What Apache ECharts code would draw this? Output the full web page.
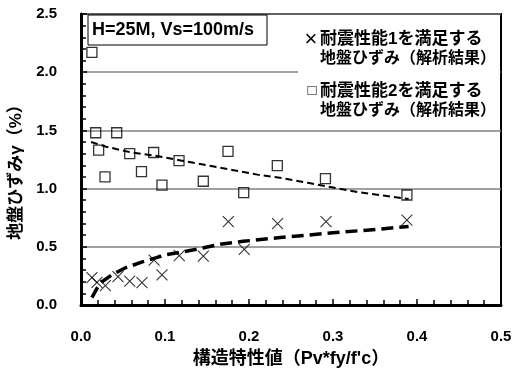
<!DOCTYPE html>
<html>
<head>
<meta charset="utf-8">
<script src="https://cdn.jsdelivr.net/npm/echarts@6/dist/echarts.min.js"></script>
<style>
  html, body { margin: 0; padding: 0; background: #fff; }
  #main { width: 512px; height: 368px; }
</style>
</head>
<body>
<div id="main"></div>
<script>
// 耐震性能1 (×) 解析結果
var crossX = [0.013, 0.019, 0.029, 0.044, 0.058, 0.0726, 0.087, 0.0964, 0.117, 0.1456, 0.1754, 0.1944, 0.234, 0.2917, 0.388]
var crossY = [0.235, 0.195, 0.166, 0.243, 0.206, 0.192, 0.385, 0.258, 0.425, 0.42, 0.716, 0.478, 0.70, 0.716, 0.73]
// 耐震性能2 (□) 解析結果
var squareX = [0.013, 0.0175, 0.021, 0.0286, 0.0425, 0.058, 0.072, 0.0865, 0.0964, 0.1167, 0.1456, 0.175, 0.1937, 0.2337, 0.291, 0.388]
var squareY = [2.17, 1.48, 1.33, 1.10, 1.48, 1.30, 1.145, 1.31, 1.03, 1.24, 1.063, 1.32, 0.965, 1.197, 1.085, 0.945]
// 近似曲線
var upperFitX = [0.012, 0.03, 0.06, 0.09, 0.12, 0.15, 0.18, 0.21, 0.24, 0.27, 0.3, 0.33, 0.36, 0.39]
var upperFitY = [1.40, 1.36, 1.31, 1.28, 1.24, 1.20, 1.16, 1.12, 1.09, 1.05, 1.01, 0.97, 0.94, 0.91]
var lowerFitX = [0.013, 0.019, 0.025, 0.037, 0.053, 0.073, 0.087, 0.1, 0.12, 0.142, 0.168, 0.193, 0.237, 0.3, 0.352, 0.39]
var lowerFitY = [0.063, 0.143, 0.2, 0.26, 0.32, 0.37, 0.40, 0.43, 0.455, 0.485, 0.525, 0.547, 0.58, 0.62, 0.65, 0.675]
// 軸
var xTicks = [0, 0.1, 0.2, 0.3, 0.4, 0.5]
var yTicks = [0, 0.5, 1.0, 1.5, 2.0, 2.5]
var legendLines = ['耐震性能1を満足する', '地盤ひずみ（解析結果）', '耐震性能2を満足する', '地盤ひずみ（解析結果）']

var FONT = '"Liberation Sans", "Noto Sans CJK JP", sans-serif'

function pairs (xs, ys) {
  return xs.map(function (x, i) { return [x, ys[i]] })
}

var myChart = echarts.init(document.getElementById('main'))

var option = {
  animation: false,
  backgroundColor: '#fff',
  textStyle: { fontFamily: FONT, fontWeight: 'bold', color: '#000' },
  grid: {
    left: 81, top: 14, width: 420, height: 291,
    containLabel: false, outerBoundsMode: 'none',
    show: true, borderColor: '#000', borderWidth: 2
  },
  xAxis: {
    type: 'value',
    min: xTicks[0], max: xTicks[xTicks.length - 1], interval: 0.1,
    name: '構造特性値（Pv*fy/f\'c）',
    nameLocation: 'middle', nameGap: 45,
    nameTextStyle: { fontSize: 18, fontWeight: 'bold', color: '#000', fontFamily: FONT },
    axisLine: { show: true, lineStyle: { color: '#000', width: 3 } },
    axisTick: { show: true, inside: true, length: 6, lineStyle: { color: '#000', width: 1.5 } },
    minorTick: { show: true, splitNumber: 5, length: 5, lineStyle: { color: '#000', width: 1.5 } },
    splitLine: { show: false },
    axisLabel: {
      margin: 24, fontSize: 15, fontWeight: 'bold', color: '#000', fontFamily: FONT,
      formatter: function (v) { return v.toFixed(1) }
    }
  },
  yAxis: {
    type: 'value',
    min: yTicks[0], max: yTicks[yTicks.length - 1], interval: 0.5,
    axisLine: { show: true, lineStyle: { color: '#000', width: 3 } },
    axisTick: { show: true, inside: true, length: 6, lineStyle: { color: '#000', width: 1.5 } },
    minorTick: { show: true, splitNumber: 5, length: 5, lineStyle: { color: '#000', width: 1.5 } },
    splitLine: { show: true, lineStyle: { color: '#808080', width: 1.5 } },
    axisLabel: {
      margin: 24, fontSize: 15, fontWeight: 'bold', color: '#000', fontFamily: FONT,
      formatter: function (v) { return v.toFixed(1) }
    }
  },
  series: [
    {
      name: 'upperFit', type: 'line', data: pairs(upperFitX, upperFitY),
      symbol: 'none', silent: true, z: 3,
      lineStyle: { color: '#000', width: 2, type: [7, 4] }
    },
    {
      name: 'lowerFit', type: 'line', data: pairs(lowerFitX, lowerFitY),
      symbol: 'none', silent: true, z: 3,
      lineStyle: { color: '#000', width: 3.5, type: [12, 6] }
    },
    {
      name: '耐震性能1', type: 'scatter', data: pairs(crossX, crossY),
      symbol: 'path://M0,0L10,10M10,0L0,10', symbolSize: 11, z: 4,
      itemStyle: { color: 'none', borderColor: '#000', borderWidth: 1.1 }
    },
    {
      name: '耐震性能2', type: 'scatter', data: pairs(squareX, squareY),
      symbol: 'rect', symbolSize: 10, z: 4,
      itemStyle: { color: 'rgba(255,255,255,0)', borderColor: '#000', borderWidth: 1.3 }
    }
  ],
  graphic: [
    // 縦軸タイトル
    { type: 'text', z: 51, x: 16, y: 168, rotation: Math.PI / 2, style: { text: '地盤ひずみγ（%）', font: 'bold 17px ' + FONT, fill: '#000', align: 'center', verticalAlign: 'middle' } },
    // 凡例の白地
    { type: 'rect', z: 50, shape: { x: 298, y: 15, width: 202, height: 114 }, style: { fill: '#fff' } },
    { type: 'text', z: 51, x: 311, y: 40, style: { text: '×', font: 'normal 22px ' + FONT, fill: '#000', align: 'center', verticalAlign: 'middle' } },
    { type: 'text', z: 51, x: 312, y: 91, style: { text: '□', font: 'normal 15px ' + FONT, fill: '#000', align: 'center', verticalAlign: 'middle' } },
    { type: 'text', z: 51, x: 320, y: 39, style: { text: legendLines[0], font: 'bold 17px ' + FONT, fill: '#000', verticalAlign: 'middle' } },
    { type: 'text', z: 51, x: 320, y: 59, style: { text: legendLines[1], font: 'bold 16px ' + FONT, fill: '#000', verticalAlign: 'middle' } },
    { type: 'text', z: 51, x: 320, y: 91, style: { text: legendLines[2], font: 'bold 17px ' + FONT, fill: '#000', verticalAlign: 'middle' } },
    { type: 'text', z: 51, x: 320, y: 111, style: { text: legendLines[3], font: 'bold 16px ' + FONT, fill: '#000', verticalAlign: 'middle' } },
    // 条件ラベル
    { type: 'rect', z: 50, shape: { x: 88, y: 15, width: 179, height: 30 }, style: { fill: '#fff', stroke: '#000', lineWidth: 1 } },
    { type: 'text', z: 51, x: 92, y: 30, style: { text: 'H=25M, Vs=100m/s', font: 'bold 18px ' + FONT, fill: '#000', verticalAlign: 'middle' } }
  ]
}

myChart.setOption(option)
</script>
</body>
</html>
